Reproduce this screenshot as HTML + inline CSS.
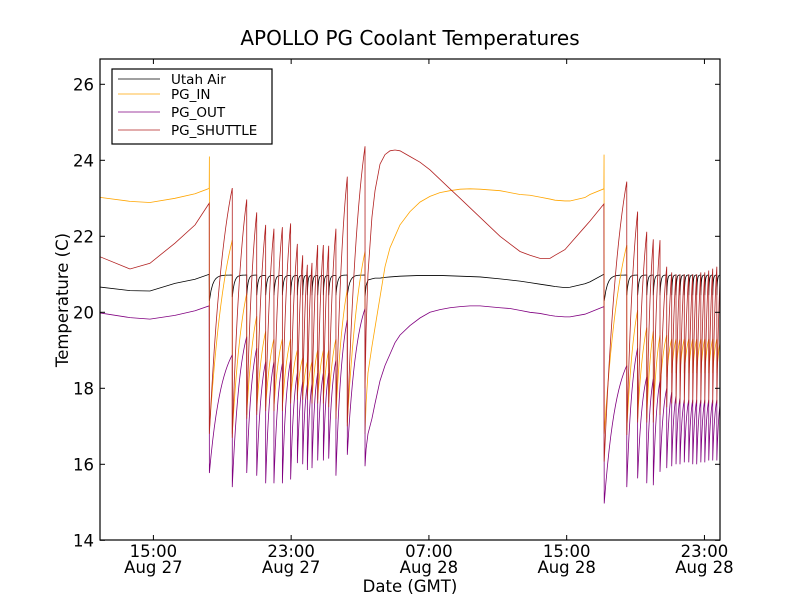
<!DOCTYPE html>
<html><head><meta charset="utf-8"><style>
body{margin:0;background:#fff}
svg text{font-family:"DejaVu Sans","Liberation Sans",sans-serif;fill:#000}
</style></head><body>
<svg id="chart" width="800" height="600">
<rect width="800" height="600" fill="#fff"/>
<text x="410" y="45" font-size="20" text-anchor="middle">APOLLO PG Coolant Temperatures</text>
<defs><clipPath id="clip"><rect x="100" y="59" width="620" height="481"/></clipPath></defs>
<g id="series" clip-path="url(#clip)"></g>
<rect x="100" y="59" width="620" height="481" fill="none" stroke="#000" stroke-width="1.2"/>
<g id="axes"></g>
<text x="410" y="592" font-size="16.5" text-anchor="middle">Date (GMT)</text>
<text transform="translate(68,300) rotate(-90)" font-size="16.5" text-anchor="middle">Temperature (C)</text>
<g>
<rect x="112" y="69" width="160" height="75" fill="#fff" stroke="#000" stroke-width="1.2"/>
<line x1="118" y1="79" x2="160" y2="79" stroke="#000" stroke-width="0.8"/><text x="171" y="84" font-size="13.5">Utah Air</text>
<line x1="118" y1="94" x2="160" y2="94" stroke="#ffa500" stroke-width="0.8"/><text x="171" y="99" font-size="13.5">PG_IN</text>
<line x1="118" y1="112" x2="160" y2="112" stroke="#800080" stroke-width="0.8"/><text x="171" y="117" font-size="13.5">PG_OUT</text>
<line x1="118" y1="130" x2="160" y2="130" stroke="#b22222" stroke-width="0.8"/><text x="171" y="135" font-size="13.5">PG_SHUTTLE</text>
</g>
</svg>
<script>
// time in hours since 15:00 Aug 27
const xTickHours=[0,8,16,24,32];
const xTickTimes=["15:00","23:00","07:00","15:00","23:00"];
const xTickDates=["Aug 27","Aug 27","Aug 28","Aug 28","Aug 28"];
const yTicks=[14,16,18,20,22,24,26];
// smooth segment 1
const seg1T=[-3.2,-1.36,-0.2,1.25,2.42,3.24];
const seg1Air=[20.67,20.57,20.56,20.76,20.87,21.0];
const seg1In=[23.03,22.92,22.89,23.0,23.12,23.26];
const seg1Out=[19.99,19.86,19.82,19.92,20.04,20.17];
const seg1Shut=[21.48,21.14,21.29,21.82,22.3,22.87];
// smooth segment 2
const seg2T=[12.29,12.35,12.46,12.69,12.87,13.16,13.45,13.74,14.03,14.32,14.90,15.48,16.06,16.64,17.22,17.81,18.39,18.97,20.13,20.71,21.29,21.87,22.45,23.03,23.32,23.90,24.19,25.06,25.35,26.16];
const seg2Air=[20.4,20.7,20.85,20.88,20.9,20.9,20.92,20.93,20.94,20.95,20.96,20.97,20.97,20.97,20.96,20.95,20.94,20.93,20.88,20.85,20.82,20.78,20.74,20.7,20.68,20.65,20.66,20.75,20.8,21.0];
const seg2In=[16.8,17.6,18.4,19.1,19.6,20.4,21.2,21.7,22.0,22.3,22.65,22.9,23.05,23.15,23.2,23.24,23.25,23.24,23.2,23.15,23.1,23.08,23.03,22.98,22.95,22.93,22.93,23.02,23.1,23.25];
const seg2Out=[15.95,16.4,16.8,17.2,17.6,18.2,18.6,18.9,19.2,19.4,19.65,19.85,20.0,20.07,20.12,20.15,20.17,20.17,20.12,20.1,20.05,20.0,19.97,19.92,19.9,19.88,19.88,19.95,20.0,20.15];
const seg2Shut=[18.0,19.5,21.0,22.5,23.2,23.9,24.15,24.25,24.27,24.25,24.1,23.95,23.75,23.5,23.25,23.0,22.75,22.5,22.0,21.8,21.6,21.5,21.42,21.42,21.5,21.65,21.8,22.25,22.4,22.85];
// oscillation region 1
const c1Start=[3.25,4.58,5.42,6.00,6.52,7.00,7.49,7.97,8.36,8.67,8.94,9.21,9.54,9.87,10.18,10.60,11.26];
const c1End=12.29;
const c1ShutHi=[23.27,22.97,22.63,22.3,22.2,22.24,22.34,21.8,21.5,21.25,21.3,21.77,21.77,21.75,22.2,23.57,24.37];
const c1ShutLo=[16.8,16.7,17.2,17.3,17.4,17.4,17.4,17.6,17.7,17.7,17.7,17.6,17.6,17.6,17.5,17.2,17.0];
const c1OutHi=[18.88,19.36,19.06,18.7,18.7,18.65,18.75,18.4,18.17,18.1,18.12,18.4,18.4,18.4,18.74,19.8,20.1];
const c1OutLo=[15.77,15.4,15.77,15.7,15.5,15.5,15.5,15.6,16.03,16.0,15.85,15.9,16.1,16.1,16.15,15.7,16.25];
const c1InHi=[21.9,20.5,19.9,19.5,19.3,19.3,19.3,19.0,18.8,18.7,18.7,19.0,19.0,19.0,19.3,20.6,21.6];
const c1InLo=[16.9,16.8,17.3,17.4,17.5,17.5,17.5,17.7,17.8,17.8,17.8,17.7,17.7,17.7,17.6,17.3,17.1];
const c1AirLo=[20.3,20.4,20.45,20.45,20.45,20.45,20.45,20.45,20.45,20.45,20.45,20.45,20.45,20.45,20.45,20.45,20.45];
const c1AirHi=[20.98,20.98,20.98,20.97,20.97,20.97,20.97,20.97,20.97,20.97,20.97,20.97,20.97,20.97,20.97,20.98,20.98];
// oscillation region 2
const c2Start=[26.18,27.49,28.12,28.65,29.03,29.42,29.81,30.10,30.35,30.58,30.83,31.09,31.32,31.55,31.79,32.02,32.25,32.48,32.72];
const c2End=32.95;
const c2ShutHi=[23.44,22.65,22.12,21.92,21.9,21.2,21.05,21.0,21.0,21.0,21.0,21.0,21.0,21.05,21.05,21.1,21.15,21.2,21.2];
const c2ShutLo=[16.07,16.77,17.1,17.1,17.1,17.3,17.5,17.6,17.6,17.6,17.6,17.6,17.6,17.6,17.6,17.6,17.6,17.6,17.6];
const c2OutHi=[18.6,19.06,18.3,18.25,18.2,18.0,17.9,17.8,17.75,17.7,17.7,17.7,17.7,17.7,17.7,17.7,17.7,17.7,17.7];
const c2OutLo=[14.97,15.4,15.63,15.5,15.45,15.8,15.9,15.95,16.0,16.0,16.05,16.05,16.0,16.0,16.05,16.05,16.1,16.1,16.1];
const c2InHi=[21.77,20.06,19.6,19.5,19.4,19.4,19.3,19.3,19.3,19.3,19.3,19.3,19.3,19.3,19.3,19.3,19.3,19.3,19.3];
const c2InLo=[16.8,16.9,17.2,17.2,17.3,18.0,18.3,18.4,18.4,18.4,18.4,18.4,18.4,18.4,18.4,18.4,18.4,18.4,18.4];
const c2AirLo=[20.3,20.45,20.45,20.45,20.45,20.45,20.45,20.45,20.45,20.45,20.45,20.45,20.45,20.45,20.45,20.45,20.45,20.45,20.45];
const c2AirHi=[20.98,20.98,20.98,20.98,20.98,20.98,20.98,20.98,20.98,20.98,20.98,20.98,20.98,20.98,20.98,20.98,20.98,20.98,20.98];
const inSpikes=[[3.25,24.1],[26.17,24.15]];

const NS="http://www.w3.org/2000/svg";
function X(t){return 153.4+17.22*t;}
function Y(v){return 312.3-38.0*(v-20);}
function mk(tag,attrs,parent){const e=document.createElementNS(NS,tag);for(const k in attrs)e.setAttribute(k,attrs[k]);parent.appendChild(e);return e;}
function cycles(starts,end,lo,hi,k,pts){
  for(let i=0;i<starts.length;i++){
    const t0=starts[i],t1=(i+1<starts.length)?starts[i+1]:end;
    const n=14;
    for(let j=0;j<=n;j++){const s=j/n;const f=(1-Math.exp(-k*s))/(1-Math.exp(-k));pts.push([t0+(t1-t0)*s,lo[i]+(hi[i]-lo[i])*f]);}
  }
}
function build(s1,s2,c1lo,c1hi,c2lo,c2hi,k,spike){
  const p=[];
  seg1T.forEach((t,i)=>p.push([t,s1[i]]));
  if(spike)p.push(inSpikes[0]);
  cycles(c1Start,c1End,c1lo,c1hi,k,p);
  seg2T.forEach((t,i)=>p.push([t,s2[i]]));
  if(spike)p.push(inSpikes[1]);
  cycles(c2Start,c2End,c2lo,c2hi,k,p);
  return p;
}
const g=document.getElementById('series');
const defs=[
 ['utah-air-line','#000',build(seg1Air,seg2Air,c1AirLo,c1AirHi,c2AirLo,c2AirHi,7,false)],
 ['pg-in-line','#ffa500',build(seg1In,seg2In,c1InLo,c1InHi,c2InLo,c2InHi,1.3,true)],
 ['pg-out-line','#800080',build(seg1Out,seg2Out,c1OutLo,c1OutHi,c2OutLo,c2OutHi,1.8,false)],
 ['pg-shuttle-line','#b22222',build(seg1Shut,seg2Shut,c1ShutLo,c1ShutHi,c2ShutLo,c2ShutHi,1.4,false)]
];
defs.forEach(d=>{
  const path=mk('path',{d:'M'+d[2].map(p=>X(p[0]).toFixed(2)+','+Y(p[1]).toFixed(2)).join('L'),fill:'none',stroke:d[1],'stroke-width':0.8},g);
  
  
});
const ax=document.getElementById('axes');
yTicks.forEach(v=>{
  const y=Y(v);
  mk('line',{x1:100,y1:y,x2:105,y2:y,stroke:'#000'},ax);
  mk('line',{x1:715,y1:y,x2:720,y2:y,stroke:'#000'},ax);
  const t=mk('text',{x:94,y:y+6,'font-size':16.5,'text-anchor':'end'},ax);
  t.textContent=v;
  
  
});
xTickHours.forEach((h,i)=>{
  const x=X(h);
  mk('line',{x1:x,y1:540,x2:x,y2:535,stroke:'#000'},ax);
  mk('line',{x1:x,y1:59,x2:x,y2:64,stroke:'#000'},ax);
  const t=mk('text',{x:x,y:557,'font-size':16.5,'text-anchor':'middle'},ax);
  t.textContent=xTickTimes[i];
  
  
  const d=mk('text',{x:x,y:573,'font-size':16.5,'text-anchor':'middle'},ax);
  d.textContent=xTickDates[i];
  
  
});
</script>
</body></html>
